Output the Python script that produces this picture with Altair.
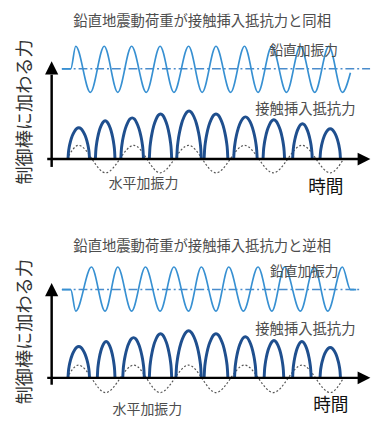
import altair as alt
import pandas as pd

# ---------------- data ----------------
TITLES = ["鉛直地震動荷重が接触挿入抵抗力と同相", "鉛直地震動荷重が接触挿入抵抗力と逆相"]
Y_LABEL = "制御棒に加わる力"
X_LABEL = "時間"
LBL_V = "鉛直加振力"
LBL_C = "接触挿入抵抗力"
LBL_H = "水平加振力"

# vertical excitation force (time, force)
v_t_top = [-0.18, 0.14, 0.32, 0.85, 1.35, 1.84, 2.34, 2.87, 3.37, 3.87, 4.40, 4.89,
           5.39, 5.92, 6.42, 6.91, 7.41, 7.94, 8.44, 8.96, 9.47, 9.96, 10.25]
v_f_top = [92, 92, 115, 68, 115, 68, 115, 68, 115, 68, 115, 68,
           115, 68, 115, 68, 115, 68, 115, 68, 115, 68, 88]
v_t_bot = [-0.18, 0.14, 0.32, 0.89, 1.38, 1.84, 2.34, 2.84, 3.37, 3.87, 4.40, 4.86,
           5.39, 5.85, 6.38, 6.91, 7.41, 7.87, 8.44, 8.94, 9.43, 9.96, 10.25, 10.46]
v_f_bot = [90, 90, 68, 113, 68, 113, 68, 113, 68, 113, 68, 113,
           68, 113, 68, 113, 68, 113, 68, 113, 68, 113, 90, 90]
v_mean_top = [92, -0.18, 10.96]
v_mean_bot = [90, -0.18, 10.60]

# horizontal excitation force
h_t = [0.0, 0.42, 1.40, 2.42, 3.37, 4.40, 5.39, 6.42, 7.46, 8.50, 9.52, 10.0]
h_f_top = [0, 14, -14, 14, -14, 14, -14, 14, -14, 14, -14, 0]
h_f_bot = [0, 13, -15, 13, -15, 13, -15, 13, -15, 13, -15, 0]

# contact insertion resistance arches
a_start_top = [0.04, 1.03, 1.95, 2.98, 3.97, 4.96, 6.03, 7.09, 8.16, 9.15]
a_end_top = [0.82, 1.74, 2.77, 3.79, 4.86, 5.82, 6.88, 7.87, 8.87, 9.89]
a_h_top = [32, 39, 42, 46, 49, 46, 43, 40, 36, 31]
a_start_bot = [0.04, 1.10, 2.02, 2.98, 3.94, 4.96, 6.06, 7.13, 8.16, 9.15]
a_end_bot = [0.82, 1.74, 2.80, 3.79, 4.86, 5.82, 6.84, 7.84, 8.83, 9.89]
a_h_bot = [32, 37, 41, 45, 48, 45, 42, 38, 37, 31]
# arch outline (fraction across, fraction of height)
arch_u = [0.0, 0.02, 0.06, 0.12, 0.2, 0.3, 0.4, 0.5, 0.6, 0.7, 0.8, 0.88, 0.94, 0.98, 1.0]
arch_r = [0.0, 0.2, 0.39, 0.57, 0.74, 0.88, 0.97, 1.0, 0.97, 0.88, 0.74, 0.57, 0.39, 0.2, 0.0]

# layout of each panel in data units
T_DOMAIN = [-2.128, 10.745]
Y_DOMAIN_TOP = [-63, 150]
Y_DOMAIN_BOT = [-34, 160]
W = 363
H_TOP = 213
H_BOT = 194

# text anchors (time, force)
txt_top = {"title": (4.89, 140), "v": (8.56, 110), "c": (8.62, 50), "h": (2.77, -25),
           "time": (9.36, -30), "ylab": (-1.52, 48)}
txt_bot = {"title": (4.89, 133), "v": (8.58, 108), "c": (8.62, 49), "h": (2.91, -33),
           "time": (9.54, -29), "ylab": (-1.52, 47)}
axis_top = {"x": -0.55, "ylo": -8, "yhi": 86, "ytip": 93, "xlo": -0.71, "xhi": 10.57, "xtip": 10.74}
axis_bot = {"x": -0.55, "ylo": -7, "yhi": 84, "ytip": 90, "xlo": -0.71, "xhi": 10.57, "xtip": 10.74}

FONT = "Noto Sans CJK JP"


def panel(title, vt, vf, vmean, hf, a_s, a_e, a_h, ydom, height, txt, ax):
    xs = alt.Scale(domain=T_DOMAIN, nice=False, zero=False)
    ys = alt.Scale(domain=ydom, nice=False, zero=False)
    X = lambda f="t": alt.X(f"{f}:Q", scale=xs, axis=None)
    Y = lambda f="f": alt.Y(f"{f}:Q", scale=ys, axis=None)

    mean_df = pd.DataFrame({"f": [vmean[0]], "t": [vmean[1]], "t2": [vmean[2]]})
    mean_line = alt.Chart(mean_df).mark_rule(
        color="#4a8ccc", strokeWidth=1.5, strokeDash=[9, 3, 2, 3]
    ).encode(x=X(), x2="t2:Q", y=Y())

    v_df = pd.DataFrame({"t": vt, "f": vf})
    v_line = alt.Chart(v_df).mark_line(
        color="#3790d2", strokeWidth=1.7, interpolate="monotone"
    ).encode(x=X(), y=Y())

    h_df = pd.DataFrame({"t": h_t, "f": hf})
    h_line = alt.Chart(h_df).mark_line(
        color="#555555", strokeWidth=1.2, strokeDash=[2, 2], interpolate="monotone"
    ).encode(x=X(), y=Y())

    rows = []
    for i, (s, e, h) in enumerate(zip(a_s, a_e, a_h)):
        for u, r in zip(arch_u, arch_r):
            rows.append({"arch": i, "t": s + u * (e - s), "f": h * r})
    a_df = pd.DataFrame(rows)
    arches = alt.Chart(a_df).mark_line(
        color="#1f4f8e", strokeWidth=3, interpolate="monotone"
    ).encode(x=X(), y=Y(), detail="arch:N")

    yax_df = pd.DataFrame({"t": [ax["x"]], "f": [ax["ylo"]], "f2": [ax["yhi"]]})
    yax = alt.Chart(yax_df).mark_rule(color="black", strokeWidth=2.5).encode(
        x=X(), y=Y(), y2="f2:Q")
    xax_df = pd.DataFrame({"t": [ax["xlo"]], "t2": [ax["xhi"]], "f": [0]})
    xax = alt.Chart(xax_df).mark_rule(color="black", strokeWidth=2.5).encode(
        x=X(), x2="t2:Q", y=Y())
    up_df = pd.DataFrame({"t": [ax["x"]], "f": [ax["ytip"]]})
    up = alt.Chart(up_df).mark_point(
        shape="M-1,1L0,-1L1,1Z", filled=True, color="black", opacity=1, size=180
    ).encode(x=X(), y=Y())
    right_df = pd.DataFrame({"t": [ax["xtip"]], "f": [0]})
    right = alt.Chart(right_df).mark_point(
        shape="M-1,-1L1,0L-1,1Z", filled=True, color="black", opacity=1, size=169
    ).encode(x=X(), y=Y())

    def label(key, text, size, color, angle=0):
        t, f = txt[key]
        df = pd.DataFrame({"t": [t], "f": [f], "s": [text]})
        return alt.Chart(df).mark_text(
            font=FONT, fontSize=size, color=color, angle=angle,
            align="center", baseline="middle"
        ).encode(x=X(), y=Y(), text="s:N")

    texts = [
        label("title", title, 14.6, "#4d4d4d"),
        label("v", LBL_V, 14, "#4d4d4d"),
        label("c", LBL_C, 14.6, "#4d4d4d"),
        label("h", LBL_H, 14.2, "#4d4d4d"),
        label("time", X_LABEL, 18, "#111111"),
        label("ylab", Y_LABEL, 18.5, "#333333", angle=270),
    ]

    return alt.layer(mean_line, v_line, h_line, arches, xax, yax, up, right, *texts).properties(
        width=W, height=height)


top = panel(TITLES[0], v_t_top, v_f_top, v_mean_top, h_f_top,
            a_start_top, a_end_top, a_h_top, Y_DOMAIN_TOP, H_TOP, txt_top, axis_top)
bot = panel(TITLES[1], v_t_bot, v_f_bot, v_mean_bot, h_f_bot,
            a_start_bot, a_end_bot, a_h_bot, Y_DOMAIN_BOT, H_BOT, txt_bot, axis_bot)

chart = alt.VConcatChart(vconcat=[top, bot], spacing=0, bounds="flush", padding=0,
                         background="white").configure_view(stroke=None)

chart.save("out.html", embed_options={"renderer": "svg", "actions": False})
